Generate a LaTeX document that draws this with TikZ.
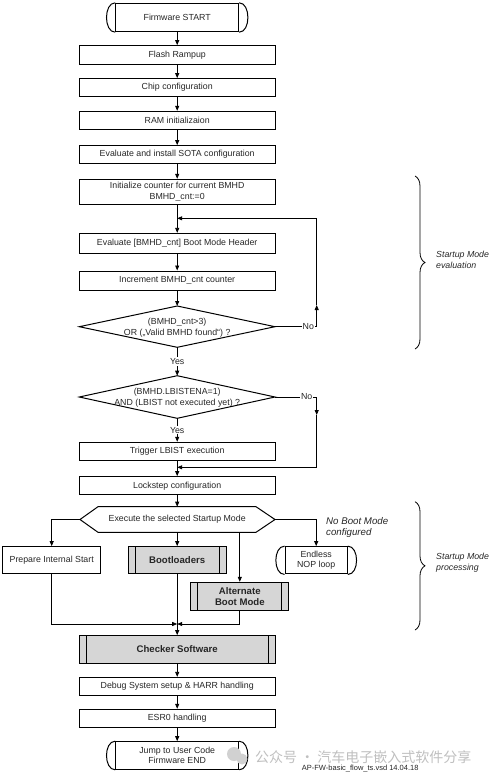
\documentclass[tikz,border=0pt]{standalone}
\usepackage{fontspec}
\setmainfont{Liberation Sans}
\newfontfamily\cjkfont{Noto Sans CJK SC}
\usetikzlibrary{arrows.meta,calc,decorations.pathreplacing}
\begin{document}
\begin{tikzpicture}[x=1pt,y=-1pt,
 every node/.style={font=\fontsize{8.8}{10.5}\selectfont, text=black!85},
 proc/.style={draw, line width=1pt, minimum width=195.7pt, inner sep=1pt, align=center},
 sub/.style={proc, fill=black!16, font=\fontsize{9.6}{11.6}\selectfont\bfseries,
   path picture={\draw[line width=1pt]
     ([xshift=7pt]path picture bounding box.north west) -- ([xshift=7pt]path picture bounding box.south west)
     ([xshift=-7pt]path picture bounding box.north east) -- ([xshift=-7pt]path picture bounding box.south east);}},
 term/.style={draw, line width=1pt, minimum width=123pt, minimum height=28.4pt, inner sep=1pt, align=center},
 lbl/.style={fill=white, inner sep=1pt},
 arr/.style={-{Triangle[length=5pt,width=4pt]}, line width=0.8pt},
 ln/.style={line width=1pt},
 brc/.style={decorate, decoration={brace, amplitude=10pt}, line width=0.8pt},
 note/.style={font=\fontsize{8.8}{11}\selectfont\itshape, align=left, anchor=west, inner sep=0pt}
]
\useasboundingbox (0,0) rectangle (497,780);

% main column
\node[term] (start) at (177.2,17.5) {Firmware START};
\node[proc, minimum height=19.3pt] (flash) at (177.2,55.3) {Flash Rampup};
\node[proc, minimum height=17.7pt] (chip) at (177.2,87.5) {Chip configuration};
\node[proc, minimum height=18pt] (ram) at (177.2,120.3) {RAM initializaion};
\node[proc, minimum height=17.7pt] (sota) at (177.2,154.5) {Evaluate and install SOTA configuration};
\node[proc, minimum height=25pt] (init) at (177.2,191.8) {Initialize counter for current BMHD\\BMHD\_cnt:=0};
\node[proc, minimum height=19.7pt] (evb) at (177.2,243.2) {Evaluate [BMHD\_cnt] Boot Mode Header};
\node[proc, minimum height=19pt] (inc) at (177.2,280.5) {Increment BMHD\_cnt counter};

% decision 1
\node[align=center, inner sep=0pt] (d1) at (177.2,327.5) {(BMHD\_cnt>3)\\OR („Valid BMHD found“) ?};
\coordinate (d1n) at (177.2,306);
\coordinate (d1s) at (177.2,347.3);
\coordinate (d1w) at (79.3,326.7);
\coordinate (d1e) at (275,326.7);
\draw[ln] (d1n) -- (d1e) -- (d1s) -- (d1w) -- cycle;

% decision 2
\node[align=center, inner sep=0pt] (d2) at (177.2,397.5) {(BMHD.LBISTENA=1)\\AND (LBIST not executed yet) ?};
\coordinate (d2n) at (177.2,375.7);
\coordinate (d2s) at (177.2,418.3);
\coordinate (d2w) at (79.3,397);
\coordinate (d2e) at (275,397);
\draw[ln] (d2n) -- (d2e) -- (d2s) -- (d2w) -- cycle;

\node[proc, minimum height=18pt] (lbist) at (177.2,451.3) {Trigger LBIST execution};
\node[proc, minimum height=18.3pt] (lock) at (177.2,485.8) {Lockstep configuration};

% hexagon
\node[inner sep=0pt] (exec) at (177.2,519.5) {Execute the selected Startup Mode};
\coordinate (exw) at (80,519.5);
\coordinate (exe) at (275,519.5);
\coordinate (exn) at (177.2,506.7);
\coordinate (exs) at (177.2,532.3);
\draw[ln] (exw) -- (98,506.7) -- (256,506.7) -- (exe) -- (256,532.3) -- (98,532.3) -- cycle;

% branches
\node[proc, minimum width=98pt, minimum height=27.3pt] (prep) at (51.7,560.3) {Prepare Internal Start};
\node[sub, minimum width=97.7pt, minimum height=27.3pt] (boot) at (177.2,560.3) {Bootloaders};
\node[sub, minimum width=97.7pt, minimum height=28.4pt] (alt) at (239.8,596.5) {Alternate\\Boot Mode};
\node[term, minimum width=62.3pt, minimum height=27.3pt] (nop) at (316.2,560.3) {Endless\\NOP loop};

% lower column
\node[sub, minimum height=27.7pt] (chk) at (177.2,649.5) {Checker Software};
\node[proc, minimum height=18.3pt] (dbg) at (177.2,686.5) {Debug System setup \& HARR handling};
\node[proc, minimum height=18pt] (esr) at (177.2,718.3) {ESR0 handling};
\node[term, minimum height=27.6pt] (end) at (177.2,755.5) {Jump to User Code\\Firmware END};

% terminator rounded ends
\foreach \n in {start,end,nop}{
  \draw[ln] (\n.north west) .. controls +(-11.6,0) and +(-11.6,0) .. (\n.south west);
  \draw[ln] (\n.north east) .. controls +(11.6,0) and +(11.6,0) .. (\n.south east);
}

% connectors
\draw[arr] (start) -- (flash);
\draw[arr] (flash) -- (chip);
\draw[arr] (chip) -- (ram);
\draw[arr] (ram) -- (sota);
\draw[arr] (sota) -- (init);
\draw[arr] (init) -- (evb);
\draw[arr] (evb) -- (inc);
\draw[arr] (inc) -- (d1n);

\coordinate (c1) at (316.7,326.7);
\coordinate (c1u) at (316.7,305);
\coordinate (c2) at (316.7,218.3);
\coordinate (m1) at (177.2,218.3);
\draw[arr] (d1e) -- node[lbl,pos=0.8]{No} (c1) -- (c1u);
\draw[arr] (c1u) -- (c2) -- (m1);

\draw[arr] (d1s) -- node[lbl]{Yes} (d2n);
\draw[arr] (d2s) -- node[lbl]{Yes} (lbist);

\coordinate (c3) at (316.7,397);
\coordinate (c3d) at (316.7,415);
\coordinate (c4) at (316.7,467.3);
\coordinate (m2) at (177.2,467.3);
\draw[arr] (d2e) -- node[lbl,pos=0.76]{No} (c3) -- (c3d);
\draw[arr] (c3d) -- (c4) -- (m2);

\draw[arr] (lbist) -- (lock);
\draw[arr] (lock) -- (exn);

\draw[arr] (exw) -- (exw -| prep) -- (prep);
\draw[arr] (exs) -- (boot);
\draw[arr] (alt |- exs) -- (alt);
\draw[arr] (exe) -- (exe -| nop) -- (nop);

\coordinate (mg) at (177.2,624);
\draw[arr] (prep) -- (prep |- mg) -- (mg);
\draw[arr] (alt) -- (alt |- mg) -- (mg);
\draw[arr] (boot) -- (chk);
\draw[arr] (chk) -- (dbg);
\draw[arr] (dbg) -- (esr);
\draw[arr] (esr) -- (end);

% braces and notes
\draw[brc] (415,176) -- (415,349);
\draw[brc] (415,501.7) -- (415,630);
\node[note] (l1) at (436,259.5) {Startup Mode\\evaluation};
\node[note] (l2) at (436,563.2) {Startup Mode\\processing};
\node[note, font=\fontsize{9.7}{11.6}\selectfont\itshape] (l3) at (326,527.5) {No Boot Mode\\configured};

% watermark and footnote
\fill[black!18] (234,754) circle (7);
\fill[black!18] (242,759) circle (5.5);
\node[anchor=west, inner sep=0pt, text=black!25, font=\cjkfont\fontsize{14}{16}\selectfont] (wm) at (255,757) {公众号 · 汽车电子嵌入式软件分享};
\node[anchor=west, inner sep=0pt, font=\fontsize{7.5}{9}\selectfont] (fn) at (301.7,769) {AP-FW-basic\_flow\_ts.vsd 14.04.18};
\end{tikzpicture}
\end{document}
